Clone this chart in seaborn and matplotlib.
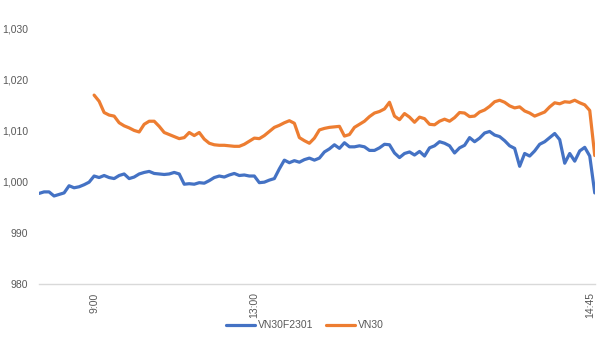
import numpy as np
import pandas as pd
import matplotlib
matplotlib.use("Agg")
import matplotlib.pyplot as plt
import seaborn as sns
from matplotlib.ticker import FuncFormatter

# Intraday prices, sampled at a regular step across the session
vn30f2301 = [
    997.7, 998.0, 998.0, 997.2, 997.5, 997.8, 999.2, 998.8, 999.0, 999.4,
    999.9, 1001.1, 1000.8, 1001.2, 1000.8, 1000.6, 1001.2, 1001.5, 1000.6, 1000.9,
    1001.5, 1001.8, 1002.0, 1001.6, 1001.5, 1001.4, 1001.5, 1001.8, 1001.5, 999.5,
    999.6, 999.5, 999.8, 999.7, 1000.2, 1000.8, 1001.1, 1000.9, 1001.3, 1001.6,
    1001.2, 1001.3, 1001.1, 1001.1, 999.8, 999.9, 1000.3, 1000.6, 1002.5, 1004.2,
    1003.7, 1004.1, 1003.8, 1004.3, 1004.6, 1004.2, 1004.6, 1005.8, 1006.4, 1007.2,
    1006.5, 1007.6, 1006.8, 1006.8, 1007.0, 1006.8, 1006.1, 1006.1, 1006.6, 1007.3,
    1007.2, 1005.6, 1004.7, 1005.5, 1005.8, 1005.2, 1005.9, 1005.0, 1006.6, 1007.0,
    1007.8, 1007.5, 1007.0, 1005.6, 1006.6, 1007.1, 1008.6, 1007.8, 1008.5, 1009.5,
    1009.8, 1009.1, 1008.8, 1008.0, 1007.0, 1006.5, 1003.0, 1005.5, 1005.0, 1006.0,
    1007.3, 1007.8, 1008.6, 1009.4, 1008.2, 1003.6, 1005.5, 1004.0, 1006.0, 1006.7,
    1005.0, 997.8,
]

# The index only starts trading at 9:00
vn30_pre_open = [np.nan] * 11
vn30 = vn30_pre_open + [
    1016.9, 1015.7, 1013.5, 1013.0, 1012.8, 1011.5, 1010.9, 1010.5, 1010.0, 1009.7,
    1011.2, 1011.8, 1011.8, 1010.8, 1009.6, 1009.2, 1008.8, 1008.4, 1008.6, 1009.6,
    1009.0, 1009.6, 1008.3, 1007.5, 1007.2, 1007.1, 1007.1, 1007.0, 1006.9, 1006.9,
    1007.3, 1007.9, 1008.5, 1008.4, 1009.0, 1009.8, 1010.6, 1011.0, 1011.5, 1011.9,
    1011.4, 1008.6, 1008.0, 1007.5, 1008.5, 1010.1, 1010.4, 1010.6, 1010.7, 1010.8,
    1008.9, 1009.2, 1010.6, 1011.2, 1011.8, 1012.7, 1013.4, 1013.7, 1014.2, 1015.5,
    1012.8, 1012.1, 1013.3, 1012.6, 1011.6, 1012.6, 1012.3, 1011.2, 1011.1, 1011.8,
    1012.2, 1011.8, 1012.5, 1013.5, 1013.4, 1012.7, 1012.8, 1013.6, 1014.0, 1014.7,
    1015.6, 1015.9, 1015.5, 1014.8, 1014.4, 1014.6, 1013.8, 1013.4, 1012.8, 1013.2,
    1013.6, 1014.6, 1015.4, 1015.2, 1015.6, 1015.5, 1015.9, 1015.4, 1015.0, 1013.9,
    1005.1,
]

series_names = ["VN30F2301", "VN30"]
series_colors = ["#4472C4", "#ED7D31"]
time_labels = ["9:00", "13:00", "14:45"]
time_label_index = [11, 43, 110]

n = len(vn30f2301)
df = pd.DataFrame({
    "idx": np.concatenate([np.arange(n), np.arange(n)]),
    "value": np.concatenate([vn30f2301, vn30]),
    "series": [series_names[0]] * n + [series_names[1]] * n,
}).dropna()

sns.set_theme(style="white")
plt.rcParams["font.family"] = ["Liberation Sans", "DejaVu Sans"]

fig = plt.figure(figsize=(6.1, 3.46), dpi=100)
ax = fig.add_axes([0.064, 0.179, 0.911, 0.740])

sns.lineplot(data=df, x="idx", y="value", hue="series",
             palette=dict(zip(series_names, series_colors)),
             linewidth=2.3, ax=ax, legend=False, estimator=None, sort=True)

ax.set_xlim(0, n - 1)
ax.set_ylim(980, 1030)
ax.set_yticks([980, 990, 1000, 1010, 1020, 1030])
ax.yaxis.set_major_formatter(FuncFormatter(lambda v, p: f"{v:,.0f}"))
ax.set_xticks(time_label_index)
ax.set_xticklabels(time_labels, rotation=90)
ax.set_xlabel("")
ax.set_ylabel("")

for side in ["top", "right", "left"]:
    ax.spines[side].set_visible(False)
ax.spines["bottom"].set_color("#D9D9D9")
ax.spines["bottom"].set_linewidth(1.0)
ax.tick_params(axis="both", length=0, labelsize=7.5, colors="#595959")
ax.tick_params(axis="y", pad=8)
ax.tick_params(axis="x", pad=6)
ax.grid(False)

handles = [plt.Line2D([0], [0], color=c, lw=2.3) for c in series_colors]
fig.legend(handles, series_names, loc="center", bbox_to_anchor=(0.5, 0.06),
           ncol=2, frameon=False, fontsize=7.5, handlelength=2.8,
           handletextpad=0.3, columnspacing=1.2, labelcolor="#595959")

fig.savefig("out.png", dpi=100, facecolor="white")
